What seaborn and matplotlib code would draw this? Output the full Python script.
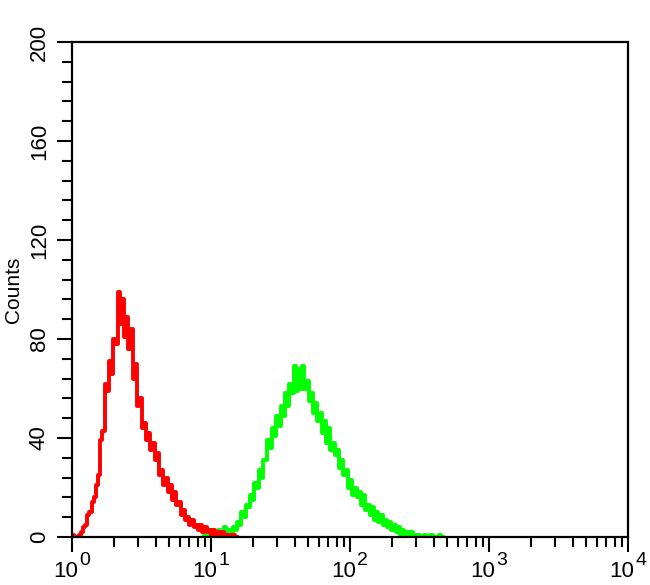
import numpy as np
import pandas as pd
import matplotlib
matplotlib.use("Agg")
import matplotlib.pyplot as plt
import matplotlib.transforms as mtransforms
from matplotlib.ticker import FixedLocator, NullFormatter, LogLocator
import seaborn as sns

# ---- data (flow cytometry histogram, 64 channels per decade) ----
channels_per_decade = 64
red_start_channel = 0
red_counts = [1, 0, 0, 1, 2, 4, 5, 9, 10, 14, 16, 21, 25, 39, 43, 62, 59, 71, 66, 80,
              78, 99, 86, 96, 81, 89, 76, 84, 64, 70, 53, 56, 44, 46, 39, 42, 35, 38, 31, 34,
              25, 27, 21, 24, 18, 21, 15, 18, 13, 14, 9, 11, 7, 8, 5, 7, 4, 5, 3, 5,
              2, 4, 2, 3, 1, 3, 1, 2, 1, 2, 0, 1, 1, 0, 1, 0, 0]
green_start_channel = 60
green_counts = [0, 1, 0, 1, 1, 2, 1, 3, 1, 2, 4, 2, 3, 2, 4, 3, 6, 5, 10, 8,
                13, 12, 17, 15, 22, 20, 27, 24, 31, 31, 39, 36, 44, 41, 49, 45, 53, 49, 58, 53,
                62, 58, 69, 59, 68, 60, 69, 60, 63, 55, 58, 50, 54, 47, 50, 42, 47, 38, 44, 35,
                38, 33, 35, 28, 31, 25, 27, 20, 23, 17, 20, 16, 18, 13, 17, 11, 13, 9, 12, 7,
                10, 6, 9, 5, 7, 4, 6, 3, 5, 2, 4, 1, 3, 1, 2, 1, 2, 0, 1, 1,
                0, 0, 1, 0, 0, 1, 0, 0, 0, 1, 0, 0]
sample_colors = {"stained": "#00ff00", "control": "#ff0000"}
y_ticks = [0, 40, 80, 120, 160, 200]
x_exponents = [0, 1, 2, 3, 4]


def to_frame(name, start, counts):
    ch = np.arange(start, start + len(counts))
    return pd.DataFrame({"fl": 10 ** ((ch + 0.5) / channels_per_decade),
                         "count": counts, "sample": name})


df = pd.concat([to_frame("stained", green_start_channel, green_counts),
                to_frame("control", red_start_channel, red_counts)], ignore_index=True)

sns.set_style("ticks")
plt.rcParams["font.family"] = ["Liberation Sans", "DejaVu Sans"]
plt.rcParams["text.color"] = "black"
plt.rcParams["axes.labelcolor"] = "black"
plt.rcParams["xtick.color"] = "black"
plt.rcParams["ytick.color"] = "black"

fig = plt.figure(figsize=(6.5, 5.85), dpi=100)
ax = fig.add_axes([72 / 650, 48 / 585, 556 / 650, 495 / 585])

sns.lineplot(data=df, x="fl", y="count", hue="sample", hue_order=["stained", "control"],
             palette=sample_colors, drawstyle="steps-mid", linewidth=2.8,
             legend=False, ax=ax, estimator=None, sort=True)

ax.set_xscale("log")
ax.set_xlim(1, 1e4)
ax.set_ylim(0, 200)

for s in ax.spines.values():
    s.set_visible(True)
    s.set_color("black")
    s.set_linewidth(1.6)

ax.set_yticks(y_ticks)
ax.yaxis.set_minor_locator(FixedLocator(np.arange(0, 201, 8)))
ax.set_yticklabels([str(v) for v in y_ticks], rotation=90, va="center", fontsize=16)

ax.xaxis.set_major_locator(FixedLocator([10 ** e for e in x_exponents]))
ax.xaxis.set_minor_locator(LogLocator(base=10, subs=np.arange(2, 10), numticks=20))
ax.xaxis.set_major_formatter(NullFormatter())
ax.xaxis.set_minor_formatter(NullFormatter())

ax.tick_params(axis="both", which="major", direction="out", length=11, width=1.5,
               color="black", pad=5, top=False, right=False)
ax.tick_params(axis="both", which="minor", direction="out", length=7, width=1.5,
               color="black", top=False, right=False)

# x tick labels: "10" with a raised exponent of similar size
trans = mtransforms.blended_transform_factory(ax.transData, ax.transAxes)
for e in x_exponents:
    base = mtransforms.offset_copy(trans, fig=fig, x=6, y=-40, units="dots")
    ax.text(10 ** e, 0, "10", transform=base, ha="right", va="baseline",
            fontsize=16, color="black")
    sup = mtransforms.offset_copy(trans, fig=fig, x=7, y=-28, units="dots")
    ax.text(10 ** e, 0, str(e), transform=sup, ha="left", va="baseline",
            fontsize=14, color="black")

ax.set_xlabel("")
ax.set_ylabel("Counts", fontsize=15, labelpad=4)

fig.savefig("out.png", dpi=100, facecolor="white")
